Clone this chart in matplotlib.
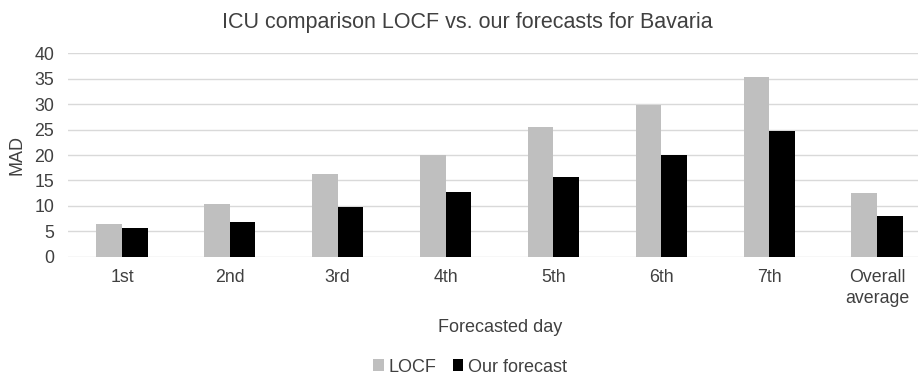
import matplotlib
matplotlib.use("Agg")
import matplotlib.pyplot as plt
import numpy as np

plt.rcParams['font.family'] = ['Liberation Sans', 'DejaVu Sans']

categories = ["1st", "2nd", "3rd", "4th", "5th", "6th", "7th", "Overall\naverage"]
locf = [6.4, 10.3, 16.3, 20.0, 25.5, 29.9, 35.3, 12.6]
ours = [5.6, 6.8, 9.8, 12.7, 15.6, 20.0, 24.7, 8.0]
series_names = ["LOCF", "Our forecast"]

text_color = "#404040"
W, H = 918, 376
fig = plt.figure(figsize=(W / 100, H / 100), dpi=100)
ax = fig.add_axes([68 / W, 1 - 256.7 / H, (931 - 68) / W, (256.7 - 53.3) / H])

x = np.arange(len(categories))
w = 0.238
ax.bar(x - w / 2, locf, w, color="#bfbfbf", label=series_names[0], zorder=3)
ax.bar(x + w / 2, ours, w, color="#000000", label=series_names[1], zorder=3)

ax.set_xlim(-0.5, len(categories) - 0.5)
ax.set_ylim(0, 40)
ax.set_yticks(np.arange(0, 41, 5))
ax.yaxis.grid(True, color="#d9d9d9", linewidth=1, zorder=0)
for s in ax.spines.values():
    s.set_visible(False)
ax.tick_params(axis="both", length=0, labelsize=12.8, colors=text_color)
ax.tick_params(axis="x", pad=9)
ax.tick_params(axis="y", pad=10)
ax.set_xticks(x)
ax.set_xticklabels(categories, linespacing=1.3)

fig.text(17 / W, 1 - 155 / H, "MAD", rotation=90, ha="center", va="center",
         fontsize=13, color=text_color)
fig.text(500 / W, 1 - 331.5 / H, "Forecasted day", ha="center", va="baseline",
         fontsize=13, color=text_color)
fig.text(467.5 / W, 1 - 28.3 / H, "ICU comparison LOCF vs. our forecasts for Bavaria",
         ha="center", va="baseline", fontsize=15.5, color=text_color)

fig.legend(loc="center", bbox_to_anchor=(470 / W, 1 - 367 / H), ncol=2, frameon=False,
           fontsize=13, handlelength=0.6, handleheight=0.6, handletextpad=0.25,
           columnspacing=0.9, labelcolor=text_color, borderpad=0)

fig.savefig("out.png", dpi=100)
